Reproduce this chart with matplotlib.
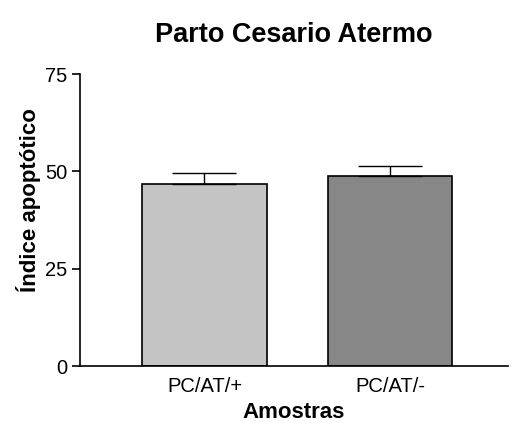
import numpy as np
import matplotlib
matplotlib.use("Agg")
import matplotlib.pyplot as plt

# -----------------------------
# Data
# -----------------------------
categories = ["PC/AT/+", "PC/AT/-"]
means = [46.7, 48.9]
errors = [2.9, 2.4]
bar_colors = ["#c4c4c4", "#878787"]

plt.rcParams["font.family"] = ["Liberation Sans", "DejaVu Sans"]

fig = plt.figure(figsize=(5.12, 4.23), dpi=100)
ax = fig.add_axes([80 / 512, 57 / 423, 428 / 512, 292 / 423])

x = np.arange(1, len(categories) + 1)
ax.bar(x, means, width=0.67, color=bar_colors, edgecolor="black", linewidth=1.2, zorder=2)
ax.errorbar(x, means, yerr=[np.zeros(len(errors)), errors], fmt="none",
            ecolor="black", elinewidth=1.0, capsize=22.7, capthick=1.0, zorder=3)

ax.set_xlim(0.329, 2.636)
ax.set_ylim(0, 75)
ax.set_yticks([0, 25, 50, 75])
ax.set_xticks(x)
ax.set_xticklabels(categories)

for side in ["top", "right"]:
    ax.spines[side].set_visible(False)
for side in ["left", "bottom"]:
    ax.spines[side].set_linewidth(1.2)

ax.tick_params(axis="y", direction="out", length=6, width=1.2, labelsize=14.5, pad=3)
ax.tick_params(axis="x", length=0, labelsize=14.5, pad=8)

ax.set_ylabel("Índice apoptótico", fontsize=16, fontweight="bold")
ax.yaxis.set_label_coords(-0.09, 0.568)
ax.set_xlabel("Amostras", fontsize=16, fontweight="bold", labelpad=4)
ax.set_title("Parto Cesario Atermo", fontsize=19.5, fontweight="bold", pad=23)

fig.savefig("out.png", dpi=100, facecolor="white")
